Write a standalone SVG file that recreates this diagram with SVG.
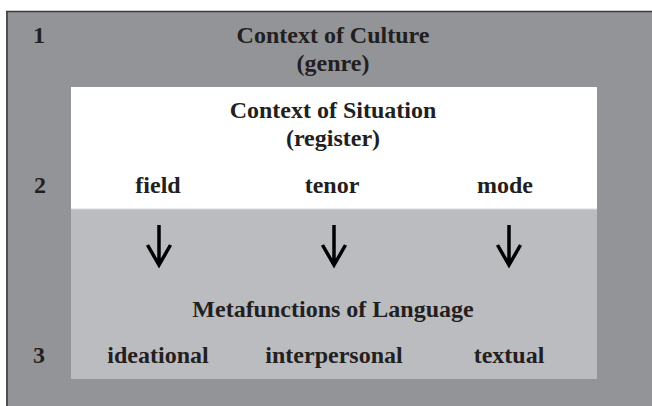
<svg xmlns="http://www.w3.org/2000/svg" width="652" height="406" viewBox="0 0 652 406">
<style>
text{font-family:"Liberation Serif","Times New Roman",serif;font-weight:bold;font-size:24px;fill:#231f20;text-anchor:middle}
.arr{stroke:#000;stroke-width:3.5;fill:none}
</style>
<rect width="652" height="406" fill="#fff"/>
<g id="culture">
<rect x="6" y="11" width="650" height="400" fill="#939498"/>
<line x1="6" y1="11.5" x2="652" y2="11.5" stroke="#3a3a3c" stroke-width="1.5"/>
<line x1="7" y1="11" x2="7" y2="406" stroke="#3a3a3c" stroke-width="1.5"/>
<text x="39" y="43">1</text>
<text x="333" y="43">Context of Culture</text>
<text x="333" y="71">(genre)</text>
</g>
<g id="situation">
<rect x="71" y="87" width="526" height="122" fill="#fff"/>
<text x="333" y="118">Context of Situation</text>
<text x="333" y="146">(register)</text>
<text x="40" y="193">2</text>
<text x="158" y="193">field</text>
<text x="332" y="193">tenor</text>
<text x="505" y="193">mode</text>
</g>
<g id="language">
<rect x="71" y="209" width="526" height="170" fill="#bbbcc0"/>
<line x1="71" y1="209" x2="597" y2="209" stroke="#d8d9db" stroke-width="1"/>
<text x="333" y="317">Metafunctions of Language</text>
<text x="39" y="363">3</text>
<text x="158" y="363">ideational</text>
<text x="334" y="363">interpersonal</text>
<text x="509" y="363">textual</text>
</g>
<g id="connectors">
<path class="arr" d="M159 225V265M147.5 245L159 265L170.5 245"/>
<path class="arr" d="M334 225V265M322.5 245L334 265L345.5 245"/>
<path class="arr" d="M509 225V265M497.5 245L509 265L520.5 245"/>
</g>
</svg>
